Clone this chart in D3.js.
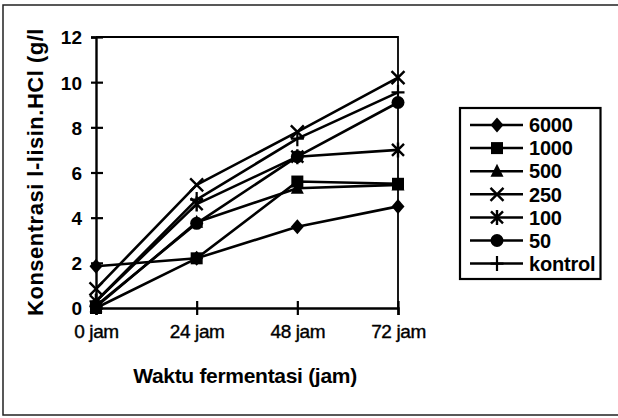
<!DOCTYPE html>
<html>
<head>
<meta charset="utf-8">
<script src="https://cdn.jsdelivr.net/npm/d3@7"></script>
<style>
  body { margin: 0; background: #fff; }
  svg { display: block; font-family: "Liberation Sans", Arial, sans-serif; }
</style>
</head>
<body>
<svg id="chart" width="618" height="418"></svg>
<script>
// data
const categories = ["0 jam", "24 jam", "48 jam", "72 jam"];
const seriesNames = ["6000", "1000", "500", "250", "100", "50", "kontrol"];
const s6000 = [1.85, 2.2, 3.6, 4.5];
const s1000 = [0.0, 2.2, 5.6, 5.5];
const s500 = [0.05, 3.8, 5.3, 5.45];
const s250 = [0.85, 5.45, 7.8, 10.2];
const s100 = [0.3, 4.6, 6.7, 7.0];
const s50 = [0.1, 3.75, 6.7, 9.1];
const sKontrol = [0.3, 4.8, 7.5, 9.55];
const yTicks = [0, 2, 4, 6, 8, 10, 12];
const markers = ["diamond", "square", "triangle", "x", "asterisk", "circle", "plus"];

const seriesValues = [s6000, s1000, s500, s250, s100, s50, sKontrol];
const series = seriesNames.map((name, i) => ({ name, values: seriesValues[i], marker: markers[i] }));

const svg = d3.select("#chart");

// outer frame of the scanned figure
svg.append("path")
  .attr("d", "M620,5H3V415H620")
  .attr("fill", "none")
  .attr("stroke", "#222")
  .attr("stroke-width", 1.5);

const x = d3.scalePoint().domain(categories).range([96, 398]).padding(0);
const y = d3.scaleLinear().domain([0, 12]).range([308, 37]);

// plot border (top and right)
svg.append("path")
  .attr("d", `M${x.range()[0]},${y(12)}H${x.range()[1]}V${y(0)}`)
  .attr("fill", "none")
  .attr("stroke", "#000")
  .attr("stroke-width", 1.8);

// y axis
const yAxis = svg.append("g")
  .attr("transform", `translate(${x.range()[0]},0)`)
  .call(d3.axisLeft(y).tickValues(yTicks).tickSize(5).tickPadding(9));
yAxis.select(".domain").attr("stroke", "#000").attr("stroke-width", 2.4);
yAxis.selectAll(".tick line").attr("x1", 7).attr("stroke-width", 2.2);
yAxis.selectAll(".tick text")
  .attr("font-size", 19).attr("font-weight", "bold")
  .attr("font-family", "'Liberation Sans', Arial, sans-serif")
  .attr("dy", "0.36em");

// x axis
const xAxis = svg.append("g")
  .attr("transform", `translate(0,${y(0)})`)
  .call(d3.axisBottom(x).tickSize(7).tickPadding(23));
xAxis.select(".domain").attr("stroke", "#000").attr("stroke-width", 2.4);
xAxis.selectAll(".tick line").attr("y1", -7).attr("stroke-width", 2.2);
xAxis.selectAll(".tick text")
  .attr("font-size", 19)
  .attr("font-family", "'Liberation Sans', Arial, sans-serif")
  .attr("stroke", "#000").attr("stroke-width", 0.4)
  .attr("letter-spacing", -0.4)
  .attr("dy", 0);

// axis titles
svg.append("text")
  .attr("transform", "translate(43,172) rotate(-90)")
  .attr("text-anchor", "middle")
  .attr("font-size", 22)
  .attr("font-weight", "bold")
  .attr("letter-spacing", 0.5)
  .text("Konsentrasi l-lisin.HCl (g/l");

svg.append("text")
  .attr("x", 245)
  .attr("y", 383)
  .attr("text-anchor", "middle")
  .attr("font-size", 21)
  .attr("font-weight", "bold")
  .attr("letter-spacing", -0.3)
  .text("Waktu fermentasi (jam)");

// marker drawing
function drawMarker(g, type) {
  if (type === "diamond") {
    g.append("path").attr("d", "M0,-7.5L6.5,0L0,7.5L-6.5,0Z").attr("fill", "#000");
  } else if (type === "square") {
    g.append("rect").attr("x", -6).attr("y", -6).attr("width", 12).attr("height", 12).attr("fill", "#000");
  } else if (type === "triangle") {
    g.append("path").attr("d", "M0,-7.5L6.5,5.5L-6.5,5.5Z").attr("fill", "#000");
  } else if (type === "circle") {
    g.append("circle").attr("r", 6.5).attr("fill", "#000");
  } else if (type === "x") {
    g.append("path").attr("d", "M-6.5,-6.5L6.5,6.5M-6.5,6.5L6.5,-6.5")
      .attr("stroke", "#000").attr("stroke-width", 2.4).attr("fill", "none");
  } else if (type === "asterisk") {
    g.append("path").attr("d", "M-6,-6L6,6M-6,6L6,-6M0,-7.5V7.5")
      .attr("stroke", "#000").attr("stroke-width", 2.4).attr("fill", "none");
  } else if (type === "plus") {
    g.append("path").attr("d", "M-6.5,0H6.5M0,-7.5V7.5")
      .attr("stroke", "#000").attr("stroke-width", 2.2).attr("fill", "none");
  }
}

const line = d3.line()
  .x((d, i) => x(categories[i]))
  .y(d => y(d));

const plot = svg.append("g");

plot.selectAll("path.series")
  .data(series)
  .join("path")
  .attr("class", "series")
  .attr("d", d => line(d.values))
  .attr("fill", "none")
  .attr("stroke", "#000")
  .attr("stroke-width", 2.6)
  .attr("stroke-linejoin", "round");

series.forEach(s => {
  s.values.forEach((v, i) => {
    const g = plot.append("g").attr("transform", `translate(${x(categories[i])},${y(v)})`);
    drawMarker(g, s.marker);
  });
});

// legend
const legend = svg.append("g");
legend.append("rect")
  .attr("x", 460).attr("y", 108)
  .attr("width", 140.5).attr("height", 171)
  .attr("fill", "#fff")
  .attr("stroke", "#000")
  .attr("stroke-width", 2.2);

const rowY = d3.scalePoint().domain(seriesNames).range([125, 263.6]);

series.forEach(s => {
  const ly = rowY(s.name);
  legend.append("line")
    .attr("x1", 470).attr("x2", 523)
    .attr("y1", ly).attr("y2", ly)
    .attr("stroke", "#000").attr("stroke-width", 2.5);
  drawMarker(legend.append("g").attr("transform", `translate(497,${ly})`), s.marker);
  legend.append("text")
    .attr("x", 529).attr("y", ly)
    .attr("dy", "0.36em")
    .attr("font-size", 20)
    .attr("font-weight", "bold")
    .attr("letter-spacing", -0.2)
    .text(s.name);
});
</script>
</body>
</html>
